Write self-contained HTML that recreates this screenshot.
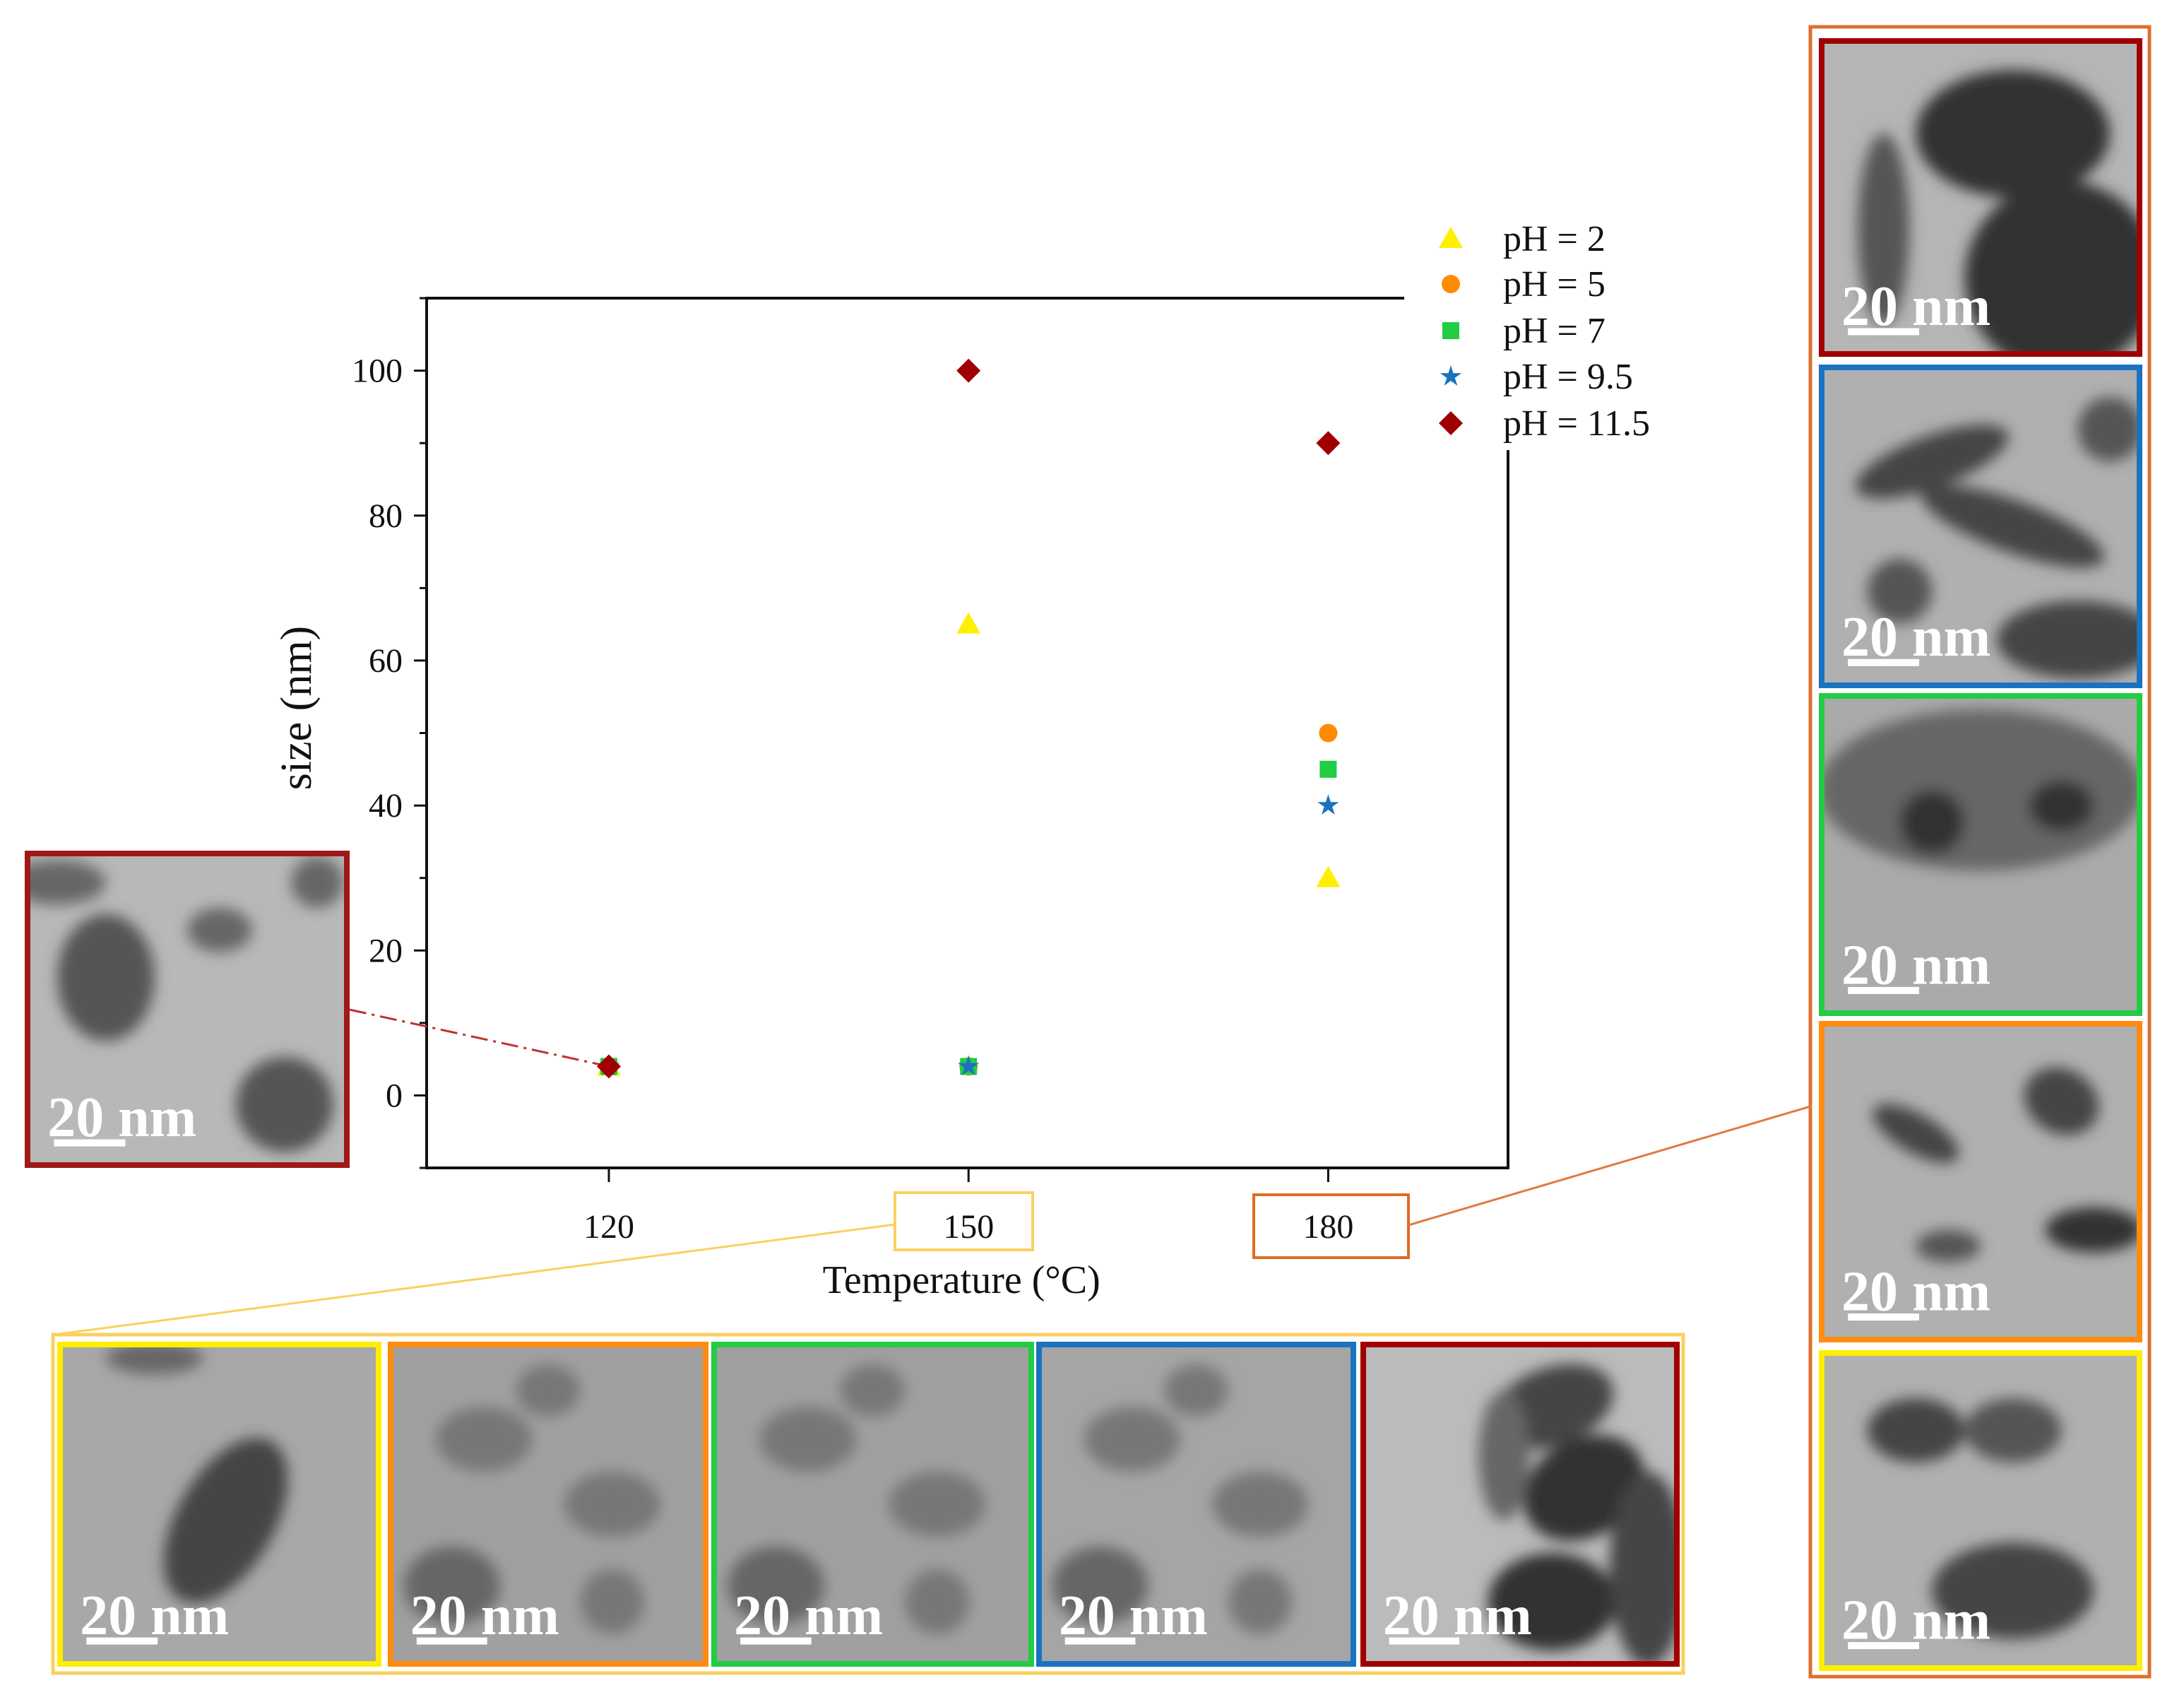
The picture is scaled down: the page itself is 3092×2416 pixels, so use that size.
<!DOCTYPE html>
<html><head><meta charset="utf-8"><style>
body{margin:0;background:#fff;}
svg{display:block;font-family:"Liberation Serif",serif;}
</style></head><body>
<svg id="s" width="3092" height="2416" viewBox="0 0 3092 2416" xmlns="http://www.w3.org/2000/svg">
<defs>
<filter id="bl" x="-50%" y="-50%" width="200%" height="200%"><feGaussianBlur stdDeviation="10"/></filter>
</defs>
<g id="images"></g>
<g id="chart"></g>
</svg>
<script>
const categories=[120,150,180];
const series=['pH = 2','pH = 5','pH = 7','pH = 9.5','pH = 11.5'];
const colors=['#ffef00','#ff8c00','#22cc44','#1a73c0','#a00000'];
const shapes=['tri','circ','sq','star','dia'];
const vals_pH2=[4,65,30];
const vals_pH5=[4,4,50];
const vals_pH7=[4,4,45];
const vals_pH95=[4,4,40];
const vals_pH115=[4,100,90];
const yTicks=[0,20,40,60,80,100];
const allVals=[vals_pH2,vals_pH5,vals_pH7,vals_pH95,vals_pH115];
const NS='http://www.w3.org/2000/svg';
const L=604,R=2135,T=422,B=1653;
const xMin=104.8,xMax=195,yMin=-10,yMax=110;
const X=v=>L+(v-xMin)/(xMax-xMin)*(R-L);
const Y=v=>B-(v-yMin)/(yMax-yMin)*(B-T);
function mk(tag,at,par){const e=document.createElementNS(NS,tag);for(const k in at)e.setAttribute(k,at[k]);(par||document.getElementById('chart')).appendChild(e);return e;}
let e;
e=mk('line',{x1:L,y1:T,x2:1988,y2:T,stroke:'#111','stroke-width':4});


e=mk('line',{x1:R,y1:637,x2:R,y2:B,stroke:'#111','stroke-width':4});


e=mk('line',{x1:L,y1:T-2,x2:L,y2:B+2,stroke:'#111','stroke-width':4});


e=mk('line',{x1:L-2,y1:B,x2:R+2,y2:B,stroke:'#111','stroke-width':4});


for(let v=-10;v<=110;v+=10){
 const major=yTicks.includes(v);
 e=mk('line',{x1:L-(major?18:10),y1:Y(v),x2:L,y2:Y(v),stroke:'#111','stroke-width':3});
 
 
}
yTicks.forEach(v=>{
 e=mk('text',{x:L-34,y:Y(v)+16,'text-anchor':'end','font-size':48,fill:'#111'});e.textContent=v;
 
 
});
categories.forEach(c=>{
 e=mk('line',{x1:X(c),y1:B,x2:X(c),y2:B+20,stroke:'#111','stroke-width':3});
 
 
 e=mk('text',{x:X(c),y:1752,'text-anchor':'middle','font-size':48,fill:'#111'});e.textContent=c;
 
 
});
e=mk('text',{x:0,y:0,transform:'translate(440,1002) rotate(-90)','text-anchor':'middle','font-size':62,fill:'#111'});e.textContent='size (nm)';


e=mk('text',{x:X(150)-10,y:1830,'text-anchor':'middle','font-size':56,fill:'#111'});e.textContent='Temperature (°C)';


e=mk('rect',{x:1267,y:1688,width:195,height:81,fill:'none',stroke:'#fbd060','stroke-width':4});


e=mk('rect',{x:1775,y:1691,width:219,height:89,fill:'none',stroke:'#e06a25','stroke-width':4});


e=mk('line',{x1:1267,y1:1733,x2:76,y2:1889,stroke:'#fbd060','stroke-width':3});


e=mk('line',{x1:1994,y1:1734,x2:2563,y2:1566,stroke:'#e07a40','stroke-width':3});


e=mk('line',{x1:495,y1:1429,x2:X(120),y2:Y(4),stroke:'#c03030','stroke-width':3,'stroke-dasharray':'24 8 4 8'});


function marker(shape,cx,cy,col,par){
 let m;
 if(shape==='tri')m=mk('polygon',{points:`${cx},${cy-17} ${cx-17},${cy+13} ${cx+17},${cy+13}`,fill:col},par);
 else if(shape==='circ')m=mk('circle',{cx,cy,r:13,fill:col},par);
 else if(shape==='sq')m=mk('rect',{x:cx-12,y:cy-12,width:24,height:24,fill:col},par);
 else if(shape==='dia')m=mk('polygon',{points:`${cx},${cy-17} ${cx+17},${cy} ${cx},${cy+17} ${cx-17},${cy}`,fill:col},par);
 else{let p=[];for(let i=0;i<10;i++){const r=i%2?6:16,a=-Math.PI/2+i*Math.PI/5;p.push((cx+r*Math.cos(a)).toFixed(1)+','+(cy+r*Math.sin(a)).toFixed(1));}m=mk('polygon',{points:p.join(' '),fill:col},par);}
 return m;
}
const order150=[0,1,2,4,3];
categories.forEach((c,ci)=>{
 const ord=ci===1?order150:[0,1,2,3,4];
 ord.forEach(si=>{
  const m=marker(shapes[si],X(c),Y(allVals[si][ci]),colors[si]);
  
  
 });
});
const lg=mk('g',{});


const lgY=[338,402,468,533,599];
series.forEach((s,i)=>{
 const m=marker(shapes[i],2054,lgY[i],colors[i],lg);
 
 
 const t=mk('text',{x:2128,y:lgY[i]+17,'font-size':52,fill:'#111'},lg);t.textContent=s;
 
 
});
const ig=document.getElementById('images');
function blobs(g,x,y,w,h,list,bg){
 mk('rect',{x,y,width:w,height:h,fill:bg},g);
 const cg=mk('g',{filter:'url(#bl)'},g);
 list.forEach(b=>mk('ellipse',{cx:x+b[0]*w,cy:y+b[1]*h,rx:b[2]*w,ry:b[3]*h,fill:b[4]||'#555',transform:`rotate(${b[5]||0} ${x+b[0]*w} ${y+b[1]*h})`},cg));
}
function tem(x,y,w,h,col,list,bg,name){
 const g=mk('g',{},ig);
 
 
 const cp='c'+Math.round(x)+'_'+Math.round(y);
 const c=mk('clipPath',{id:cp},g);mk('rect',{x,y,width:w,height:h},c);
 const inner=mk('g',{'clip-path':`url(#${cp})`},g);
 blobs(inner,x,y,w,h,list,bg);
 mk('rect',{x:x+4,y:y+4,width:w-8,height:h-8,fill:'none',stroke:col,'stroke-width':8},g);
 const t=mk('text',{x:x+w*0.07,y:y+h*0.9,'font-size':80,'font-weight':'bold',fill:'#fff'},g);t.textContent='20 nm';
 
 
 mk('rect',{x:x+w*0.09,y:y+h*0.91,width:w*0.22,height:10,fill:'#fff'},g);
}
const blobSets={
 frag:[[0.25,0.4,0.15,0.2,'#555'],[0.6,0.25,0.1,0.07,'#666'],[0.8,0.8,0.15,0.15,'#555'],[0.1,0.1,0.15,0.07,'#666'],[0.9,0.1,0.08,0.08,'#666']],
 single:[[0.52,0.55,0.15,0.28,'#444',30],[0.3,0.05,0.15,0.05,'#666']],
 dots:[[0.3,0.3,0.15,0.1,'#777'],[0.7,0.5,0.15,0.1,'#777'],[0.2,0.75,0.15,0.12,'#666'],[0.7,0.8,0.1,0.1,'#777'],[0.5,0.15,0.1,0.08,'#777']],
 big:[[0.6,0.2,0.2,0.12,'#444',-20],[0.7,0.45,0.2,0.15,'#333',-30],[0.45,0.35,0.08,0.2,'#666'],[0.6,0.8,0.2,0.15,'#333'],[0.9,0.7,0.12,0.3,'#444']],
 rods:[[0.6,0.3,0.3,0.2,'#333'],[0.75,0.75,0.3,0.3,'#333',-30],[0.2,0.6,0.08,0.3,'#555']],
 rods2:[[0.35,0.3,0.25,0.08,'#444',-20],[0.6,0.5,0.3,0.08,'#444',20],[0.8,0.85,0.25,0.12,'#444'],[0.25,0.7,0.1,0.1,'#555'],[0.9,0.2,0.1,0.1,'#555']],
 green:[[0.5,0.3,0.5,0.25,'#666'],[0.35,0.4,0.1,0.1,'#333'],[0.75,0.35,0.1,0.08,'#333']],
 orange:[[0.3,0.35,0.15,0.06,'#444',30],[0.75,0.25,0.12,0.1,'#444',30],[0.85,0.65,0.15,0.07,'#333'],[0.4,0.7,0.1,0.05,'#555']],
 yellow:[[0.3,0.25,0.15,0.1,'#444'],[0.6,0.25,0.15,0.1,'#555'],[0.6,0.75,0.25,0.15,'#444']]
};
tem(35,1204,460,449,'#a01818',blobSets.frag,'#b8b8b8','tem-120-ph11-5');
const bottomX=[81,549,1007,1467,1926],bottomW=[459,454,457,453,452];
const bottomCol=['#ffee00','#ff8c10','#22cc44','#1a73c0','#a00000'];
const bottomSet=['single','dots','dots','dots','big'];
const bottomBg=['#a8a8a8','#a0a0a0','#a0a0a0','#a5a5a5','#bbb'];
mk('rect',{x:75,y:1889,width:2308,height:479,fill:'none',stroke:'#fbd060','stroke-width':5},ig);
bottomX.forEach((x,i)=>tem(x,1899,bottomW[i],460,bottomCol[i],blobSets[bottomSet[i]],bottomBg[i],'tem-150-'+i));
mk('rect',{x:2563,y:38,width:480,height:2335,fill:'none',stroke:'#e07030','stroke-width':5},ig);
const rightY=[54,516,981,1445,1911],rightH=[451,458,457,455,454];
const rightCol=['#a00000','#1a73c0','#22cc44','#ff8c10','#ffee00'];
const rightSet=['rods','rods2','green','orange','yellow'];
const rightBg=['#b5b5b5','#b0b0b0','#aaa','#b0b0b0','#b0b0b0'];
rightY.forEach((y,i)=>tem(2575,y,458,rightH[i],rightCol[i],blobSets[rightSet[i]],rightBg[i],'tem-180-'+i));
</script>
</body></html>
